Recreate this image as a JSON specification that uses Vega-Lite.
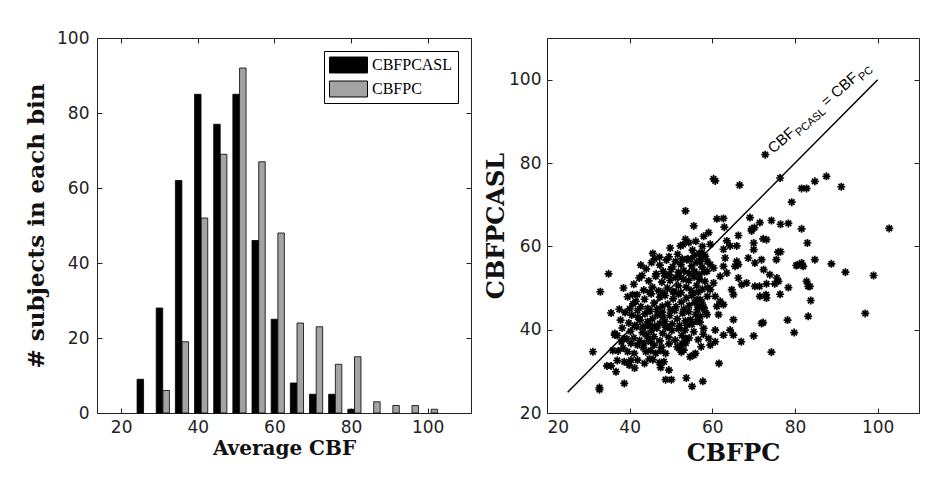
{
  "$schema": "https://vega.github.io/schema/vega-lite/v6.json",
  "padding": {"left": 25, "top": 28, "right": 5, "bottom": 5},
  "spacing": 12,
  "resolve": {"legend": {"fill": "independent"}, "scale": {"fill": "independent"}},
  "config": {
    "view": {"stroke": "#222", "strokeWidth": 1},
    "axis": {
      "labelFont": "DejaVu Sans", "labelFontSize": 17, "labelColor": "#222",
      "tickColor": "#222", "tickSize": -5, "tickWidth": 1, "domain": false, "grid": false,
      "labelPadding": 13,
      "titleFont": "DejaVu Serif", "titleFontWeight": "bold", "titleColor": "#111"
    }
  },
  "hconcat": [
    {
      "width": 374, "height": 375,
      "data": {"values": [
        {"bin": 25, "series": "CBFPCASL", "count": 9},
        {"bin": 30, "series": "CBFPCASL", "count": 28},
        {"bin": 35, "series": "CBFPCASL", "count": 62},
        {"bin": 40, "series": "CBFPCASL", "count": 85},
        {"bin": 45, "series": "CBFPCASL", "count": 77},
        {"bin": 50, "series": "CBFPCASL", "count": 85},
        {"bin": 55, "series": "CBFPCASL", "count": 46},
        {"bin": 60, "series": "CBFPCASL", "count": 25},
        {"bin": 65, "series": "CBFPCASL", "count": 8},
        {"bin": 70, "series": "CBFPCASL", "count": 5},
        {"bin": 75, "series": "CBFPCASL", "count": 5},
        {"bin": 80, "series": "CBFPCASL", "count": 1},
        {"bin": 30, "series": "CBFPC", "count": 6},
        {"bin": 35, "series": "CBFPC", "count": 19},
        {"bin": 40, "series": "CBFPC", "count": 52},
        {"bin": 45, "series": "CBFPC", "count": 69},
        {"bin": 50, "series": "CBFPC", "count": 92},
        {"bin": 55, "series": "CBFPC", "count": 67},
        {"bin": 60, "series": "CBFPC", "count": 48},
        {"bin": 65, "series": "CBFPC", "count": 24},
        {"bin": 70, "series": "CBFPC", "count": 23},
        {"bin": 75, "series": "CBFPC", "count": 13},
        {"bin": 80, "series": "CBFPC", "count": 15},
        {"bin": 85, "series": "CBFPC", "count": 3},
        {"bin": 90, "series": "CBFPC", "count": 2},
        {"bin": 95, "series": "CBFPC", "count": 2},
        {"bin": 100, "series": "CBFPC", "count": 1}
      ]},
      "layer": [
        {
          "transform": [{"filter": "datum.series === 'CBFPCASL'"}],
          "mark": {"type": "bar", "size": 6.5, "stroke": "#000", "strokeWidth": 0.8},
          "encoding": {
            "x": {"field": "bin", "type": "quantitative",
              "scale": {"domain": [15, 110], "nice": false, "zero": false},
              "axis": {"values": [20, 40, 60, 80, 100], "title": "Average CBF", "titleFontSize": 20, "titlePadding": 3, "labelPadding": 11}},
            "y": {"field": "count", "type": "quantitative",
              "scale": {"domain": [0, 100], "nice": false},
              "axis": {"values": [0, 20, 40, 60, 80, 100], "title": "# subjects in each bin", "titleFontSize": 23, "titlePadding": 8}},
            "fill": {"field": "series", "type": "nominal",
              "scale": {"domain": ["CBFPCASL", "CBFPC"], "range": ["#000000", "#a3a3a3"]},
              "legend": {
                "title": null, "orient": "top-right", "offset": 13,
                "strokeColor": "#000", "fillColor": "#fff", "padding": 5,
                "symbolType": "M-1,-0.42H1V0.42H-1Z", "symbolSize": 1444,
                "symbolStrokeColor": "#000", "symbolStrokeWidth": 1,
                "clipHeight": 18, "rowPadding": 6, "labelOffset": 4,
                "labelFont": "Liberation Serif", "labelFontSize": 16, "labelColor": "#000"
              }}
          }
        },
        {
          "transform": [{"filter": "datum.series === 'CBFPC'"}],
          "mark": {"type": "bar", "size": 6.5, "xOffset": 6.7, "stroke": "#000", "strokeWidth": 0.8},
          "encoding": {
            "x": {"field": "bin", "type": "quantitative",
              "axis": {"orient": "top", "values": [20, 40, 60, 80, 100], "labels": false, "title": null}},
            "y": {"field": "count", "type": "quantitative",
              "axis": {"orient": "right", "values": [0, 20, 40, 60, 80, 100], "labels": false, "title": null}},
            "fill": {"field": "series", "type": "nominal"}
          }
        }
      ],
      "resolve": {"axis": {"x": "independent", "y": "independent"}}
    },
    {
      "width": 372, "height": 375,
      "layer": [
        {
          "data": {"values": [
            {"pc":72.8,"pcasl":82.0},{"pc":60.3,"pcasl":76.2},{"pc":60.7,"pcasl":75.7},{"pc":66.6,"pcasl":74.7},{"pc":76.4,"pcasl":76.4},{"pc":87.6,"pcasl":76.8},{"pc":84.8,"pcasl":75.6},{"pc":81.6,"pcasl":73.9},{"pc":82.8,"pcasl":73.9},{"pc":91.2,"pcasl":74.3},
            {"pc":79.2,"pcasl":70.6},{"pc":53.5,"pcasl":68.5},{"pc":55.5,"pcasl":64.9},{"pc":69.1,"pcasl":66.9},{"pc":74.3,"pcasl":66.2},{"pc":76.5,"pcasl":65.3},{"pc":78.4,"pcasl":65.5},{"pc":61.1,"pcasl":66.6},{"pc":62.7,"pcasl":66.7},{"pc":71.5,"pcasl":65.7},
            {"pc":81.6,"pcasl":64.2},{"pc":102.8,"pcasl":64.3},{"pc":83.0,"pcasl":60.8},{"pc":72.3,"pcasl":61.8},{"pc":73.1,"pcasl":61.6},{"pc":70.0,"pcasl":60.8},{"pc":75.9,"pcasl":58.6},{"pc":76.5,"pcasl":58.7},{"pc":70.0,"pcasl":59.2},{"pc":84.8,"pcasl":56.8},
            {"pc":81.6,"pcasl":56.0},{"pc":82.0,"pcasl":55.2},{"pc":80.3,"pcasl":55.4},{"pc":80.6,"pcasl":55.5},{"pc":88.8,"pcasl":55.8},{"pc":92.2,"pcasl":53.8},{"pc":99.0,"pcasl":53.0},{"pc":73.9,"pcasl":53.2},{"pc":71.9,"pcasl":56.8},{"pc":72.4,"pcasl":54.4},
            {"pc":75.6,"pcasl":52.4},{"pc":76.0,"pcasl":51.6},{"pc":82.8,"pcasl":51.6},{"pc":83.2,"pcasl":50.4},{"pc":83.6,"pcasl":50.4},{"pc":78.4,"pcasl":50.1},{"pc":76.4,"pcasl":48.5},{"pc":73.0,"pcasl":48.4},{"pc":71.4,"pcasl":50.4},{"pc":83.8,"pcasl":47.0},
            {"pc":83.2,"pcasl":43.2},{"pc":78.2,"pcasl":42.3},{"pc":97.0,"pcasl":43.9},{"pc":71.9,"pcasl":41.5},{"pc":72.3,"pcasl":41.7},{"pc":70.0,"pcasl":38.5},{"pc":79.8,"pcasl":39.3},{"pc":67.0,"pcasl":37.1},{"pc":74.3,"pcasl":34.6},{"pc":61.6,"pcasl":31.9},
            {"pc":57.7,"pcasl":27.6},{"pc":55.1,"pcasl":26.4},{"pc":53.7,"pcasl":28.4},{"pc":50.1,"pcasl":28.0},{"pc":48.7,"pcasl":28.0},{"pc":49.5,"pcasl":30.3},{"pc":47.2,"pcasl":32.1},{"pc":38.7,"pcasl":27.1},{"pc":32.7,"pcasl":26.1},{"pc":32.7,"pcasl":25.6},
            {"pc":31.1,"pcasl":34.7},{"pc":34.5,"pcasl":31.3},{"pc":35.5,"pcasl":31.3},{"pc":36.7,"pcasl":29.9},{"pc":38.7,"pcasl":32.3},{"pc":32.9,"pcasl":49.1},{"pc":34.9,"pcasl":53.4},{"pc":35.5,"pcasl":44.0},{"pc":37.5,"pcasl":44.9},{"pc":38.5,"pcasl":50.0},
            {"pc":36.4,"pcasl":39.1},{"pc":36.4,"pcasl":38.7},{"pc":38.0,"pcasl":37.1},{"pc":37.2,"pcasl":34.9},{"pc":40.3,"pcasl":32.7},{"pc":55.9,"pcasl":34.3},{"pc":55.5,"pcasl":33.9},{"pc":51.9,"pcasl":35.5},{"pc":53.5,"pcasl":37.9},{"pc":57.3,"pcasl":35.9},
            {"pc":59.1,"pcasl":37.9},{"pc":59.5,"pcasl":36.3},{"pc":60.7,"pcasl":37.1},{"pc":62.7,"pcasl":38.7},{"pc":65.1,"pcasl":38.7},{"pc":64.3,"pcasl":39.9},{"pc":60.7,"pcasl":39.9},{"pc":57.9,"pcasl":40.3},{"pc":53.9,"pcasl":41.1},
            {"pc":75.5,"pcasl":56.8},{"pc":75.1,"pcasl":51.0},{"pc":73.1,"pcasl":51.0},{"pc":73.1,"pcasl":47.6},{"pc":62.9,"pcasl":64.6},{"pc":69.5,"pcasl":64.2},{"pc":70.2,"pcasl":64.5},
            {"pc":59.1,"pcasl":63.3},{"pc":66.3,"pcasl":62.6},{"pc":69.5,"pcasl":63.7},{"pc":54.3,"pcasl":60.9},{"pc":59.5,"pcasl":60.5},{"pc":63.5,"pcasl":61.3},{"pc":64.3,"pcasl":60.1},{"pc":65.9,"pcasl":60.1},{"pc":52.3,"pcasl":60.1},{"pc":57.5,"pcasl":58.5},
            {"pc":57.1,"pcasl":56.4},{"pc":62.7,"pcasl":59.3},{"pc":63.1,"pcasl":57.2},{"pc":65.5,"pcasl":55.2},{"pc":68.7,"pcasl":57.2},{"pc":70.3,"pcasl":56.0},{"pc":65.9,"pcasl":56.4},{"pc":66.3,"pcasl":55.6},{"pc":59.5,"pcasl":55.6},{"pc":60.3,"pcasl":54.8},
            {"pc":58.7,"pcasl":54.0},{"pc":62.7,"pcasl":55.2},{"pc":63.5,"pcasl":53.6},{"pc":61.9,"pcasl":52.8},{"pc":66.3,"pcasl":52.4},{"pc":67.1,"pcasl":50.8},{"pc":68.3,"pcasl":51.2},{"pc":70.3,"pcasl":50.4},{"pc":64.7,"pcasl":49.6},{"pc":65.1,"pcasl":48.4},
            {"pc":60.3,"pcasl":51.2},{"pc":59.5,"pcasl":49.6},{"pc":60.7,"pcasl":48.0},{"pc":61.9,"pcasl":46.8},{"pc":61.1,"pcasl":45.6},{"pc":62.7,"pcasl":46.0},{"pc":71.5,"pcasl":48.0},{"pc":56.3,"pcasl":47.2},{"pc":57.5,"pcasl":46.4},{"pc":56.7,"pcasl":45.6},
            {"pc":61.5,"pcasl":43.6},{"pc":65.1,"pcasl":42.4},{"pc":52.7,"pcasl":36.7},{"pc":53.1,"pcasl":35.1},{"pc":56.3,"pcasl":42.0},{"pc":57.1,"pcasl":43.2},{"pc":54.7,"pcasl":42.4},{"pc":58.7,"pcasl":43.6},
            {"pc":35.9,"pcasl":35.0},{"pc":39.9,"pcasl":31.5},{"pc":41.9,"pcasl":32.7},{"pc":43.9,"pcasl":34.7},{"pc":45.1,"pcasl":35.0},{"pc":46.3,"pcasl":34.3},{"pc":47.5,"pcasl":35.0},{"pc":48.7,"pcasl":34.3},{"pc":48.3,"pcasl":32.3},{"pc":38.7,"pcasl":37.9},
            {"pc":40.3,"pcasl":36.7},{"pc":41.9,"pcasl":36.3},{"pc":43.5,"pcasl":36.7},{"pc":45.1,"pcasl":37.1},{"pc":41.1,"pcasl":34.3},{"pc":39.5,"pcasl":34.7},{"pc":45.6,"pcasl":58.3},{"pc":49.5,"pcasl":57.5},{"pc":40.7,"pcasl":48.4},{"pc":41.5,"pcasl":46.8},
            {"pc":47.2,"pcasl":57.4},{"pc":49.8,"pcasl":59.6},{"pc":51.6,"pcasl":58.1},{"pc":52.9,"pcasl":60.4},{"pc":54.1,"pcasl":57.0},{"pc":55.2,"pcasl":59.1},{"pc":56.0,"pcasl":61.2},{"pc":56.8,"pcasl":58.3},{"pc":57.6,"pcasl":60.0},{"pc":58.3,"pcasl":57.6},
            {"pc":53.5,"pcasl":61.7},{"pc":55.6,"pcasl":57.7},{"pc":57.9,"pcasl":62.4},
            {"pc":44.0,"pcasl":54.6},{"pc":45.3,"pcasl":56.1},{"pc":46.4,"pcasl":53.4},{"pc":47.3,"pcasl":55.5},{"pc":48.1,"pcasl":54.0},{"pc":48.9,"pcasl":56.7},{"pc":49.6,"pcasl":53.2},{"pc":50.4,"pcasl":55.1},{"pc":51.1,"pcasl":56.4},{"pc":51.8,"pcasl":53.8},
            {"pc":52.4,"pcasl":55.6},{"pc":53.1,"pcasl":54.2},{"pc":53.8,"pcasl":56.8},{"pc":54.4,"pcasl":53.5},{"pc":55.0,"pcasl":55.3},{"pc":55.7,"pcasl":54.0},{"pc":56.3,"pcasl":56.2},{"pc":56.9,"pcasl":53.2},{"pc":57.5,"pcasl":55.0},{"pc":58.1,"pcasl":53.9},
            {"pc":58.8,"pcasl":56.4},{"pc":46.0,"pcasl":57.0},{"pc":50.0,"pcasl":54.5},{"pc":52.7,"pcasl":57.0},{"pc":54.8,"pcasl":56.9},{"pc":57.2,"pcasl":57.0},{"pc":42.7,"pcasl":55.5},
            {"pc":41.0,"pcasl":50.9},{"pc":42.3,"pcasl":52.4},{"pc":43.4,"pcasl":49.5},{"pc":44.6,"pcasl":51.7},{"pc":45.5,"pcasl":50.2},{"pc":46.3,"pcasl":52.8},{"pc":47.0,"pcasl":49.3},{"pc":47.8,"pcasl":51.4},{"pc":48.5,"pcasl":52.9},{"pc":49.1,"pcasl":50.0},
            {"pc":49.8,"pcasl":51.8},{"pc":50.5,"pcasl":49.1},{"pc":51.1,"pcasl":52.5},{"pc":51.8,"pcasl":50.5},{"pc":52.4,"pcasl":48.9},{"pc":53.0,"pcasl":52.1},{"pc":53.7,"pcasl":50.2},{"pc":54.3,"pcasl":51.8},{"pc":54.9,"pcasl":49.4},{"pc":55.6,"pcasl":52.7},
            {"pc":56.2,"pcasl":50.6},{"pc":56.9,"pcasl":52.0},{"pc":57.6,"pcasl":49.7},{"pc":58.2,"pcasl":51.6},{"pc":58.9,"pcasl":50.1},{"pc":43.0,"pcasl":53.0},{"pc":48.0,"pcasl":48.9},{"pc":52.0,"pcasl":53.0},{"pc":55.3,"pcasl":48.7},
            {"pc":39.5,"pcasl":47.9},{"pc":40.8,"pcasl":46.2},{"pc":41.8,"pcasl":48.4},{"pc":42.7,"pcasl":45.5},{"pc":43.6,"pcasl":47.3},{"pc":44.4,"pcasl":45.1},{"pc":45.2,"pcasl":48.6},{"pc":45.9,"pcasl":46.4},{"pc":46.6,"pcasl":44.9},{"pc":47.3,"pcasl":47.8},
            {"pc":47.9,"pcasl":45.6},{"pc":48.6,"pcasl":48.2},{"pc":49.2,"pcasl":46.1},{"pc":49.9,"pcasl":44.8},{"pc":50.5,"pcasl":47.4},{"pc":51.2,"pcasl":45.5},{"pc":51.8,"pcasl":48.5},{"pc":52.5,"pcasl":46.6},{"pc":53.1,"pcasl":44.9},{"pc":53.7,"pcasl":47.6},
            {"pc":54.4,"pcasl":45.8},{"pc":55.0,"pcasl":48.2},{"pc":55.7,"pcasl":46.5},{"pc":56.4,"pcasl":44.8},{"pc":57.1,"pcasl":47.2},{"pc":57.9,"pcasl":45.4},{"pc":58.8,"pcasl":48.0},{"pc":44.8,"pcasl":49.0},{"pc":50.8,"pcasl":49.0},{"pc":56.6,"pcasl":49.0},
            {"pc":37.8,"pcasl":42.3},{"pc":38.9,"pcasl":44.1},{"pc":39.8,"pcasl":41.6},{"pc":40.5,"pcasl":43.5},{"pc":41.2,"pcasl":41.0},{"pc":41.9,"pcasl":44.6},{"pc":42.5,"pcasl":42.3},{"pc":43.1,"pcasl":40.7},{"pc":43.7,"pcasl":43.8},{"pc":44.3,"pcasl":41.9},
            {"pc":44.9,"pcasl":44.4},{"pc":45.5,"pcasl":42.6},{"pc":46.1,"pcasl":40.8},{"pc":46.7,"pcasl":43.5},{"pc":47.3,"pcasl":41.5},{"pc":47.9,"pcasl":44.2},{"pc":48.5,"pcasl":42.0},{"pc":49.1,"pcasl":40.6},{"pc":49.7,"pcasl":43.4},{"pc":50.3,"pcasl":41.4},
            {"pc":50.9,"pcasl":44.6},{"pc":51.5,"pcasl":42.6},{"pc":52.1,"pcasl":41.0},{"pc":52.8,"pcasl":43.9},{"pc":53.5,"pcasl":42.1},{"pc":54.3,"pcasl":44.3},{"pc":55.1,"pcasl":41.3},{"pc":56.0,"pcasl":43.6},{"pc":57.0,"pcasl":41.8},{"pc":58.2,"pcasl":44.5},
            {"pc":40.0,"pcasl":45.0},{"pc":45.0,"pcasl":41.0},{"pc":48.0,"pcasl":43.0},{"pc":42.0,"pcasl":43.0},
            {"pc":37.0,"pcasl":38.6},{"pc":38.2,"pcasl":40.4},{"pc":39.3,"pcasl":37.8},{"pc":40.2,"pcasl":39.6},{"pc":41.0,"pcasl":38.0},{"pc":41.7,"pcasl":40.7},{"pc":42.4,"pcasl":37.4},{"pc":43.1,"pcasl":39.3},{"pc":43.8,"pcasl":40.8},{"pc":44.5,"pcasl":37.9},
            {"pc":45.2,"pcasl":39.7},{"pc":45.9,"pcasl":38.3},{"pc":46.6,"pcasl":40.4},{"pc":47.3,"pcasl":37.3},{"pc":48.0,"pcasl":39.1},{"pc":48.7,"pcasl":40.6},{"pc":49.4,"pcasl":38.2},{"pc":50.2,"pcasl":39.8},{"pc":51.0,"pcasl":37.5},{"pc":51.8,"pcasl":40.2},
            {"pc":52.6,"pcasl":38.6},{"pc":53.4,"pcasl":39.9},{"pc":54.4,"pcasl":38.0},{"pc":55.5,"pcasl":39.5},{"pc":56.6,"pcasl":37.6},{"pc":57.8,"pcasl":38.9},{"pc":44.0,"pcasl":38.8},
            {"pc":38.4,"pcasl":35.6},{"pc":43.3,"pcasl":35.7},{"pc":45.9,"pcasl":36.3},{"pc":47.7,"pcasl":35.8},{"pc":49.5,"pcasl":36.6},{"pc":51.5,"pcasl":35.9},{"pc":52.5,"pcasl":34.6},{"pc":53.6,"pcasl":36.8},{"pc":54.6,"pcasl":33.5},
            {"pc":37.0,"pcasl":32.6},{"pc":41.2,"pcasl":30.8},{"pc":43.6,"pcasl":31.9},{"pc":45.6,"pcasl":32.8},{"pc":47.5,"pcasl":30.9},{"pc":44.8,"pcasl":33.0}
          ]},
          "mark": {"type": "point", "shape": "M-1,0H1M0,-1V1M-0.7,-0.7L0.7,0.7M-0.7,0.7L0.7,-0.7", "filled": false, "stroke": "#000", "strokeWidth": 1.7, "size": 64, "opacity": 1},
          "encoding": {
            "x": {"field": "pc", "type": "quantitative",
              "scale": {"domain": [20, 110], "nice": false, "zero": false},
              "axis": {"values": [20, 40, 60, 80, 100], "title": "CBFPC", "titleFontSize": 24, "titlePadding": 6, "labelPadding": 11}},
            "y": {"field": "pcasl", "type": "quantitative",
              "scale": {"domain": [20, 110], "nice": false, "zero": false},
              "axis": {"values": [20, 40, 60, 80, 100], "title": "CBFPCASL", "titleFontSize": 24, "titlePadding": 0, "labelPadding": 11}}
          }
        },
        {
          "data": {"values": [{"pc": 25, "pcasl": 25}, {"pc": 100, "pcasl": 100}]},
          "mark": {"type": "line", "color": "#000", "strokeWidth": 1.5},
          "encoding": {
            "x": {"field": "pc", "type": "quantitative",
              "axis": {"orient": "top", "values": [20, 40, 60, 80, 100], "labels": false, "title": null}},
            "y": {"field": "pcasl", "type": "quantitative",
              "axis": {"orient": "right", "values": [20, 40, 60, 80, 100], "labels": false, "title": null}}
          }
        },
        {
          "data": {"values": [{"pc": 74.74, "pcasl": 82.17, "label": "CBF"}, {"pc": 87.63, "pcasl": 93.41, "label": "= CBF"}]},
          "mark": {"type": "text", "angle": -41, "fontSize": 15, "font": "Liberation Sans", "color": "#000", "align": "left", "baseline": "alphabetic"},
          "encoding": {
            "x": {"field": "pc", "type": "quantitative", "axis": null},
            "y": {"field": "pcasl", "type": "quantitative", "axis": null},
            "text": {"field": "label"}
          }
        },
        {
          "data": {"values": [{"pc": 81.0, "pcasl": 86.36, "label": "PCASL"}, {"pc": 96.24, "pcasl": 99.65, "label": "PC"}]},
          "mark": {"type": "text", "angle": -41, "fontSize": 11, "font": "Liberation Sans", "color": "#000", "align": "left", "baseline": "alphabetic"},
          "encoding": {
            "x": {"field": "pc", "type": "quantitative", "axis": null},
            "y": {"field": "pcasl", "type": "quantitative", "axis": null},
            "text": {"field": "label"}
          }
        }
      ],
      "resolve": {"axis": {"x": "independent", "y": "independent"}}
    }
  ]
}
